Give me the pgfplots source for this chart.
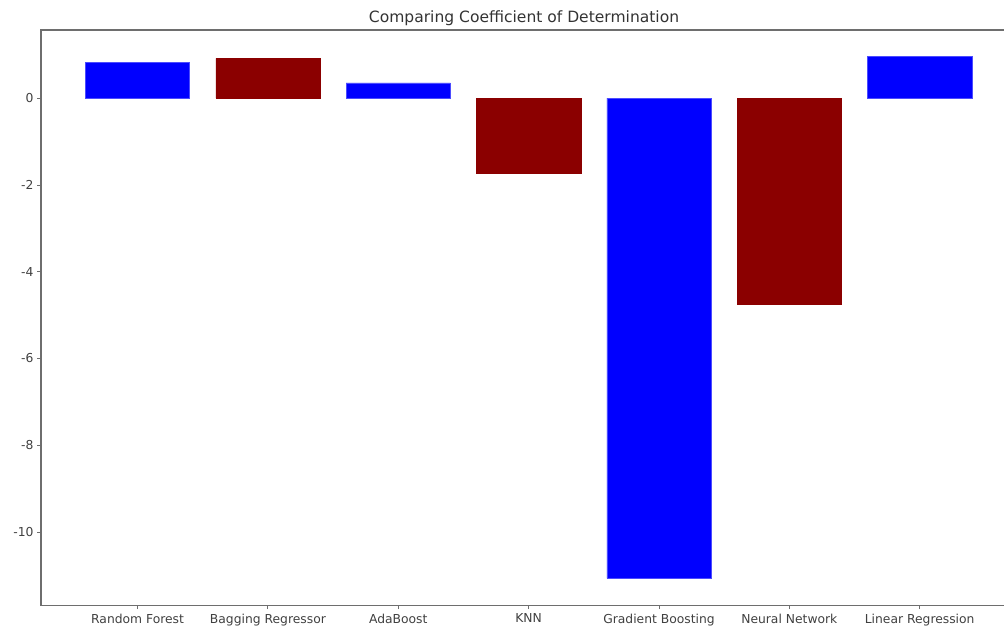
\documentclass[border=0pt]{standalone}
\usepackage{fontspec}
\setmainfont{DejaVu Sans}
\usepackage{pgfplots}
\pgfplotsset{compat=1.18}
\definecolor{mplred}{RGB}{139,0,0}
\definecolor{axgray}{RGB}{110,110,110}
\begin{document}
\begin{tikzpicture}[x=1pt,y=1pt]
\useasboundingbox (-41pt,-31pt) rectangle (961pt,604pt);
\begin{axis}[
  at={(0pt,0pt)}, anchor=south west,
  scale only axis,
  width=964pt, height=574pt,
  xmin=-0.74, xmax=6.67,
  ymin=-11.69, ymax=1.57,
  ybar, bar shift=0pt, bar width=0.8,
  xtick={0,1,2,3,4,5,6},
  xticklabels={Random Forest,Bagging Regressor,AdaBoost,KNN,Gradient Boosting,Neural Network,Linear Regression},
  ytick={-10,-8,-6,-4,-2,0},
  /pgf/number format/assume math mode=true,
  tick label style={font=\fontsize{12.3}{14}\selectfont, text=black!75},
  tick align=outside,
  major tick length=4pt,
  tick style={axgray, line width=0.8pt},
  axis line style={axgray, line width=1.2pt},
  xtick pos=bottom, ytick pos=left,
  title={Comparing Coefficient of Determination},
  title style={font=\fontsize{15.5}{17}\selectfont, text=black!80, yshift=-5pt},
  xticklabel style={yshift=-1pt},
]
\addplot[fill=blue, draw=blue!70] coordinates {(0,0.83) (2,0.35) (4,-11.07) (6,0.97)};
\addplot[fill=mplred, draw=mplred] coordinates {(1,0.92) (3,-1.73) (5,-4.74)};
\end{axis}
\end{tikzpicture}
\end{document}
